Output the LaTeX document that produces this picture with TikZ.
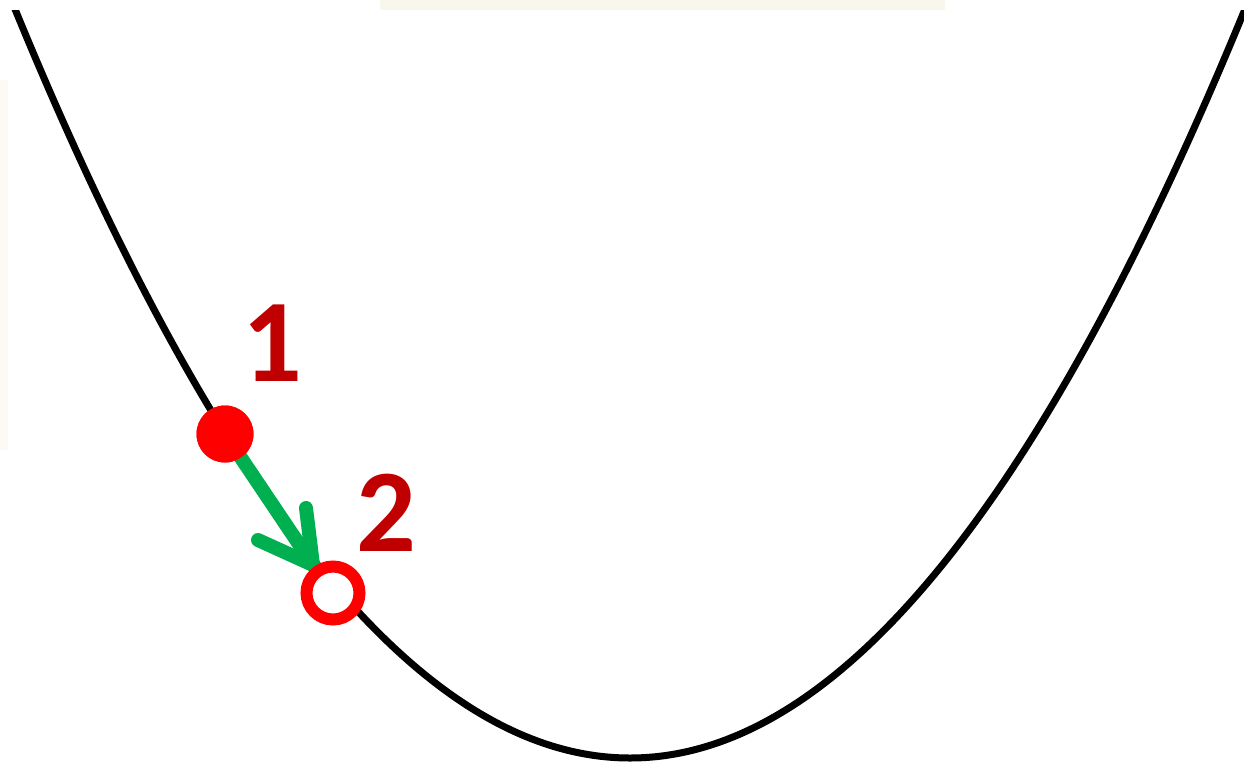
\documentclass[tikz,border=0pt]{standalone}
\usepackage{fontspec}
\setmainfont{Carlito}
\definecolor{darkred}{HTML}{C00000}
\definecolor{arrowgreen}{HTML}{00B050}
\definecolor{ptred}{HTML}{FF0000}
\definecolor{beige}{RGB}{249,247,236}
\begin{document}
\begin{tikzpicture}[x=1pt,y=-1pt,
  curve/.style={black, line width=7pt},
  filleddot/.style={circle, fill=ptred, minimum size=57pt, inner sep=0pt},
  opendot/.style={circle, draw=ptred, line width=12pt, fill=white, minimum size=53pt, inner sep=0pt},
  stepline/.style={arrowgreen, line width=14pt, line cap=round, line join=round},
  numlabel/.style={text=darkred, font=\fontsize{118}{118}\selectfont\bfseries, inner sep=0pt}]
\useasboundingbox (0,0) rectangle (1244,764);
\fill[beige] (380,0) rectangle (945,10);
\fill[beige!60] (0,80) rectangle (8,450);
\begin{scope}
\clip (0,10) rectangle (1244,764);
\draw[curve, domain=10:1250, samples=150, smooth] plot (\x, {758-19.8*((\x-630)/100)^2});
\end{scope}
\coordinate (tip) at (313,565);
\coordinate (armA) at (306,508);
\coordinate (armB) at (258,540);
\node[filleddot] (p1) at (225,434) {};
\draw[stepline] (p1.center) -- (tip);
\draw[stepline] (armA) -- (tip) -- (armB);
\node[filleddot] (p1top) at (p1.center) {};
\node[opendot] (p2) at (333,593) {};
\node[numlabel] (l1) at (272,343) {1};
\node[numlabel] (l2) at (386,513) {2};
\end{tikzpicture}
\end{document}
